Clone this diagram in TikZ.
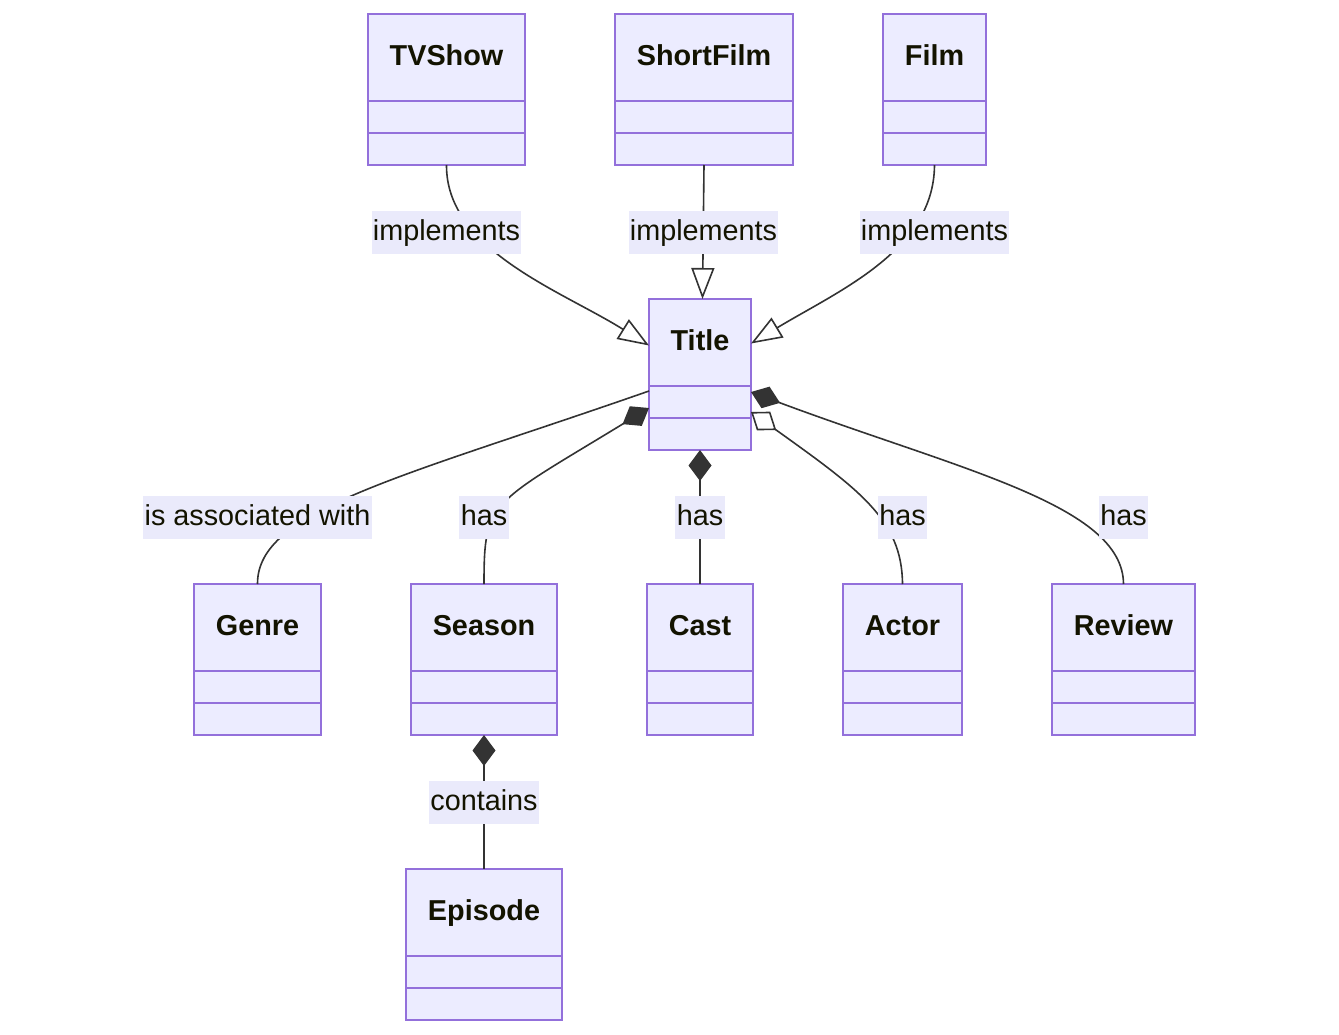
\documentclass[tikz,border=0pt]{standalone}
\usepackage{fontspec}
\setmainfont{Liberation Sans}
\usetikzlibrary{arrows.meta, positioning}

\definecolor{classfill}{HTML}{ECECFF}
\definecolor{classline}{HTML}{9370DB}
\definecolor{classtext}{HTML}{131300}
\definecolor{edgeline}{HTML}{333333}
\definecolor{labelfill}{HTML}{EAEAFB}
\newcommand{\px}{0.75pt}

\begin{document}
\begin{tikzpicture}[
    x=0.75pt, y=-0.75pt,
    % Class box styles
    classbox/.style={draw=classline, fill=classfill, line width=1.4pt, outer sep=0pt, inner sep=0pt},
    classhead/.style={classbox, minimum height=87*\px, font=\fontsize{21.6}{26}\selectfont\bfseries,
                      text=classtext, text height=1.3em, text depth=0.1em},
    classpart/.style={classbox, minimum height=32*\px},
    % Edge styles
    link/.style={draw=edgeline, line width=1.2pt},
    realize/.style={link, -{Triangle[length=23.25pt, width=17.25pt, fill=white]}},
    compose/.style={link, {Diamond[length=23.25pt, width=17.25pt]}-},
    aggregate/.style={link, {Diamond[length=23.25pt, width=17.25pt, fill=white]}-},
    edgelabel/.style={fill=labelfill, inner xsep=1pt, inner ysep=0pt, minimum height=43*\px,
                      text=classtext, font=\fontsize{21.6}{26}\selectfont, text height=1.3em, text depth=0.1em}
]
\useasboundingbox (0,0) rectangle (1339,1035);

% Classes: header plus two empty compartments
\foreach \cname/\cx/\cy/\cw/\ctext in {
    tvshow/446.5/57.5/157/TVShow, shortfilm/704/57.5/178/ShortFilm, film/934.5/57.5/103/Film,
    title/700/342.5/102/Title,
    genre/257.5/627.5/127/Genre, season/484/627.5/146/Season, cast/700/627.5/106/Cast,
    actor/902.5/627.5/119/Actor, review/1123.5/627.5/143/Review,
    episode/484/912.5/156/Episode} {
    \node[classhead, minimum width=\cw*\px] (\cname) at (\cx,\cy) {\ctext};
    \node[classpart, minimum width=\cw*\px, below=0pt of \cname] (\cname-a) {};
    \node[classpart, minimum width=\cw*\px, below=0pt of \cname-a] (\cname-b) {};
}

% Implementations into Title
\draw[realize] (tvshow-b.south) .. controls (446,250) and (560,290) .. ([yshift=-3*\px]title.west);
\draw[realize] (shortfilm-b.south) -- ([xshift=2.5*\px]title.north);
\draw[realize] (film-b.south) .. controls (934,250) and (840,290) .. ([yshift=-1*\px]title.east);

% Title to its parts
\draw[link] ([yshift=-5*\px]title-a.north west) .. controls (400,478) and (257,510) .. (genre.north);
\draw[compose] ([yshift=-6*\px]title-a.west) .. controls (490,505) and (484,500) .. (season.north);
\draw[compose] (title-b.south) -- (cast.north);
\draw[aggregate] ([yshift=-10*\px]title-a.east) .. controls (860,490) and (902,520) .. (actor.north);
\draw[compose] ([yshift=10*\px]title-a.east) .. controls (960,470) and (1123,505) .. (review.north);

% Season to Episode
\draw[compose] (season-b.south) -- (episode.north);

% Edge labels
\node[edgelabel] (lbl-tvshow) at (446.5,232.5) {implements};
\node[edgelabel] (lbl-shortfilm) at (703.5,232.5) {implements};
\node[edgelabel] (lbl-film) at (934.5,232.5) {implements};
\node[edgelabel] (lbl-genre) at (257.5,517.5) {is associated with};
\node[edgelabel] (lbl-season) at (484,517.5) {has};
\node[edgelabel] (lbl-cast) at (700,517.5) {has};
\node[edgelabel] (lbl-actor) at (902.5,517.5) {has};
\node[edgelabel] (lbl-review) at (1123.5,517.5) {has};
\node[edgelabel] (lbl-episode) at (484,802.5) {contains};

\end{tikzpicture}
\end{document}
